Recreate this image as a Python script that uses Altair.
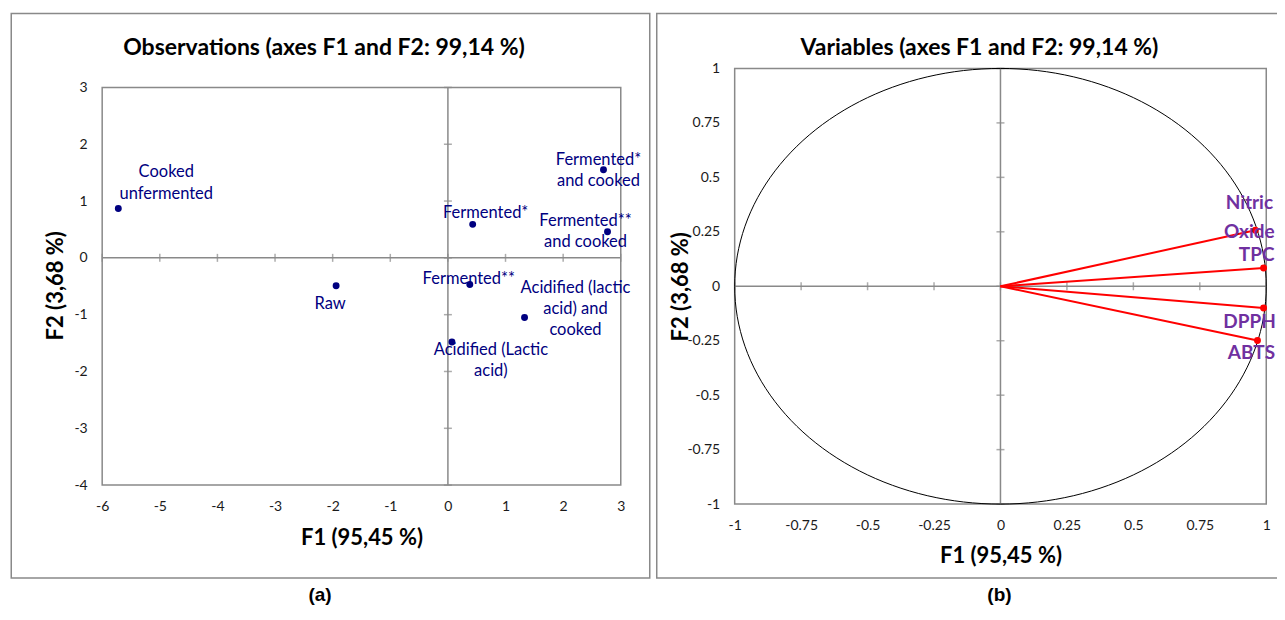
import altair as alt
import pandas as pd

# ---------------- data ----------------
obs_names = ["Cooked unfermented", "Raw", "Fermented*", "Fermented* and cooked",
             "Fermented** and cooked", "Fermented**",
             "Acidified (lactic acid) and cooked", "Acidified (Lactic acid)"]
obs_labels = ["Cooked\nunfermented", "Raw", "Fermented*", "Fermented*\nand cooked",
              "Fermented**\nand cooked", "Fermented**",
              "Acidified (lactic\nacid) and\ncooked", "Acidified (Lactic\nacid)"]
obs_f1 = [-5.72, -1.94, 0.43, 2.70, 2.77, 0.38, 1.33, 0.07]
obs_f2 = [0.87, -0.49, 0.59, 1.55, 0.46, -0.47, -1.05, -1.48]

var_names = ["Nitric Oxide", "TPC", "DPPH", "ABTS"]
var_labels = ["Nitric\nOxide", "TPC", "DPPH", "ABTS"]
var_f1 = [0.959, 0.990, 0.990, 0.967]
var_f2 = [0.257, 0.084, -0.100, -0.249]

left_x_ticks = [-6, -5, -4, -3, -2, -1, 0, 1, 2, 3]
left_y_ticks = [-4, -3, -2, -1, 0, 1, 2, 3]
right_ticks = [-1, -0.75, -0.5, -0.25, 0, 0.25, 0.5, 0.75, 1]

title_left = "Observations (axes F1 and F2: 99,14 %)"
title_right = "Variables (axes F1 and F2: 99,14 %)"
x_title = "F1 (95,45 %)"
y_title = "F2 (3,68 %)"

# ---------------- style ----------------
FONT = "Lato"
GRAY = "#898989"
NAVY = "#000080"
PURPLE = "#7030A0"

obs_offsets = {  # first-line label offset (dx, dy) in pixels
    "Cooked unfermented": (48, -36),
    "Raw": (-6, 18),
    "Fermented*": (13, -11),
    "Fermented* and cooked": (-5, -10),
    "Fermented** and cooked": (-22, -11),
    "Fermented**": (-1, -6),
    "Acidified (lactic acid) and cooked": (51, -30),
    "Acidified (Lactic acid)": (39, 8),
}
var_offsets = {
    "Nitric Oxide": (-6, -27),
    "TPC": (-7, -13),
    "DPPH": (-14, 14),
    "ABTS": (-6, 13),
}

LW = 519
RW, RH = 532, 436
# left plot area starts 19px lower than the right one (both views share a top)
L_TOP_GAP = 19
L_PLOT_H = 398
LH = L_PLOT_H + L_TOP_GAP

obs_df = pd.DataFrame({"name": obs_names, "label": obs_labels, "f1": obs_f1, "f2": obs_f2})
var_df = pd.DataFrame({"name": var_names, "label": var_labels, "f1": var_f1, "f2": var_f2})
lx_df = pd.DataFrame({"v": left_x_ticks})
ly_df = pd.DataFrame({"v": left_y_ticks})
rt_df = pd.DataFrame({"v": right_ticks})
one = alt.Data(values=[{"k": 1}])

label_expr = "datum.value < 0 ? '-' + format(abs(datum.value), '') : format(datum.value, '')"


def make_x(field, domain, values, title_y):
    return alt.X(field, type="quantitative",
                 scale=alt.Scale(domain=domain, nice=False, zero=False),
                 axis=alt.Axis(values=values, title=x_title, grid=False, ticks=False, domain=False,
                               labelPadding=14, labelFontSize=14, labelColor="#1a1a1a",
                               labelExpr=label_expr, labelFlush=False,
                               titleFontSize=22, titleFontWeight="bold", titleColor="#000000",
                               titleY=title_y, titleBaseline="middle"))


def make_y(field, domain, values, title_x, title_y):
    return alt.Y(field, type="quantitative",
                 scale=alt.Scale(domain=domain, nice=False, zero=False),
                 axis=alt.Axis(values=values, title=y_title, grid=False, ticks=False, domain=False,
                               labelPadding=15, labelFontSize=14, labelColor="#1a1a1a",
                               labelExpr=label_expr, labelFlush=False,
                               titleFontSize=22, titleFontWeight="bold", titleColor="#000000",
                               titleX=title_x, titleY=title_y, titleBaseline="middle"))


# ---------------- left panel ----------------
LXD = [-6, 3]
LYD = [-4, 3 + L_TOP_GAP * 7 / L_PLOT_H]
lX = lambda f: make_x(f, LXD, left_x_ticks, 52)
lY = lambda f: make_y(f, LYD, left_y_ticks, -47, 217)

l_box = alt.Chart(one).mark_rect(fillOpacity=0, stroke=GRAY, strokeWidth=1.5).encode(
    x=alt.value(-91), x2=alt.value(548), y=alt.value(-55), y2=alt.value(510))
l_title = alt.Chart(one).mark_text(text=title_left, fontSize=23, fontWeight="bold",
                                   align="center", baseline="middle").encode(
    x=alt.value(222), y=alt.value(-20))
l_tag = alt.Chart(one).mark_text(text="(a)", font="Liberation Sans", fontSize=19,
                                 fontWeight="bold", align="center", baseline="alphabetic").encode(
    x=alt.value(218), y=alt.value(533))
l_frame = alt.Chart(one).transform_calculate(a="-6", b="3", c="-4", d="3").mark_rect(
    fillOpacity=0, stroke=GRAY, strokeWidth=1.5).encode(x=lX("a"), x2="b:Q", y=lY("c"), y2="d:Q")
l_hline = alt.Chart(one).transform_calculate(z="0").mark_rule(color=GRAY, strokeWidth=1.5).encode(
    y=lY("z"))
l_vline = alt.Chart(one).transform_calculate(z="0", c="-4", d="3").mark_rule(
    color=GRAY, strokeWidth=1.5).encode(x=lX("z"), y=lY("c"), y2="d:Q")
l_xt = alt.Chart(lx_df).transform_calculate(z="0").mark_tick(
    orient="vertical", size=8, thickness=1.5, color=GRAY).encode(x=lX("v"), y=lY("z"))
l_yt = alt.Chart(ly_df).transform_calculate(z="0").mark_tick(
    orient="horizontal", size=8, thickness=1.5, color=GRAY).encode(x=lX("z"), y=lY("v"))
l_pts = alt.Chart(obs_df).mark_circle(size=48, color=NAVY, opacity=1).encode(
    x=lX("f1"), y=lY("f2"), tooltip=["name:N"])
l_labels = [
    alt.Chart(obs_df).transform_filter(alt.datum.name == n).mark_text(
        dx=obs_offsets[n][0], dy=obs_offsets[n][1], lineBreak="\n", lineHeight=21.5,
        fontSize=16.5, color=NAVY, align="center", baseline="middle").encode(
        x=lX("f1"), y=lY("f2"), text="label:N")
    for n in obs_names
]
left = alt.layer(l_box, l_title, l_tag, l_frame, l_hline, l_vline, l_xt, l_yt, l_pts,
                 *l_labels).properties(width=LW, height=LH)

# ---------------- right panel ----------------
RD = [-1, 1]
rX = lambda f: make_x(f, RD, right_ticks, 51)
rY = lambda f: make_y(f, RD, right_ticks, -54, 218)

r_box = alt.Chart(one).mark_rect(fillOpacity=0, stroke=GRAY, strokeWidth=1.5).encode(
    x=alt.value(-78), x2=alt.value(570), y=alt.value(-55), y2=alt.value(510))
r_extent = alt.Chart(one).mark_rect(opacity=0).encode(
    x=alt.value(-78), x2=alt.value(570), y=alt.value(-55), y2=alt.value(545))
r_title = alt.Chart(one).mark_text(text=title_right, fontSize=23, fontWeight="bold",
                                   align="center", baseline="middle").encode(
    x=alt.value(245), y=alt.value(-20))
r_tag = alt.Chart(one).mark_text(text="(b)", font="Liberation Sans", fontSize=19,
                                 fontWeight="bold", align="center", baseline="alphabetic").encode(
    x=alt.value(265), y=alt.value(533))
r_frame = alt.Chart(one).transform_calculate(a="-1", b="1").mark_rect(
    fillOpacity=0, stroke=GRAY, strokeWidth=1.5).encode(x=rX("a"), x2="b:Q", y=rY("a"), y2="b:Q")
r_hline = alt.Chart(one).transform_calculate(z="0").mark_rule(color=GRAY, strokeWidth=1.5).encode(
    y=rY("z"))
r_vline = alt.Chart(one).transform_calculate(z="0").mark_rule(color=GRAY, strokeWidth=1.5).encode(
    x=rX("z"))
r_xt = alt.Chart(rt_df).transform_calculate(z="0").mark_tick(
    orient="vertical", size=8, thickness=1.5, color=GRAY).encode(x=rX("v"), y=rY("z"))
r_yt = alt.Chart(rt_df).transform_calculate(z="0").mark_tick(
    orient="horizontal", size=8, thickness=1.5, color=GRAY).encode(x=rX("z"), y=rY("v"))
r_circle = alt.Chart(alt.sequence(0, 362, 2, as_="t")).transform_calculate(
    cx="cos(datum.t * PI / 180)", cy="sin(datum.t * PI / 180)").mark_line(
    color="black", strokeWidth=1).encode(x=rX("cx"), y=rY("cy"), order="t:Q")
r_vec = alt.Chart(var_df).transform_calculate(z="0").mark_rule(color="#FF0000", strokeWidth=2).encode(
    x=rX("z"), y=rY("z"), x2="f1:Q", y2="f2:Q")
r_pts = alt.Chart(var_df).mark_circle(size=48, color="#FF0000", opacity=1).encode(
    x=rX("f1"), y=rY("f2"), tooltip=["name:N"])
r_labels = [
    alt.Chart(var_df).transform_filter(alt.datum.name == n).mark_text(
        dx=var_offsets[n][0], dy=var_offsets[n][1], lineBreak="\n", lineHeight=29,
        fontSize=19, fontWeight="bold", color=PURPLE, align="center", baseline="middle").encode(
        x=rX("f1"), y=rY("f2"), text="label:N")
    for n in var_names
]
right = alt.layer(r_extent, r_box, r_title, r_tag, r_frame, r_hline, r_vline, r_xt, r_yt,
                  r_circle, r_vec, r_pts, *r_labels).properties(width=RW, height=RH)

chart = alt.hconcat(left, right, spacing=5).properties(
    padding={"left": 2.25, "top": 4.25, "right": -28.25, "bottom": -6},
    background="white",
).configure(font=FONT).configure_view(strokeWidth=0)

chart.save("out.html", embed_options={"renderer": "svg", "actions": False})
